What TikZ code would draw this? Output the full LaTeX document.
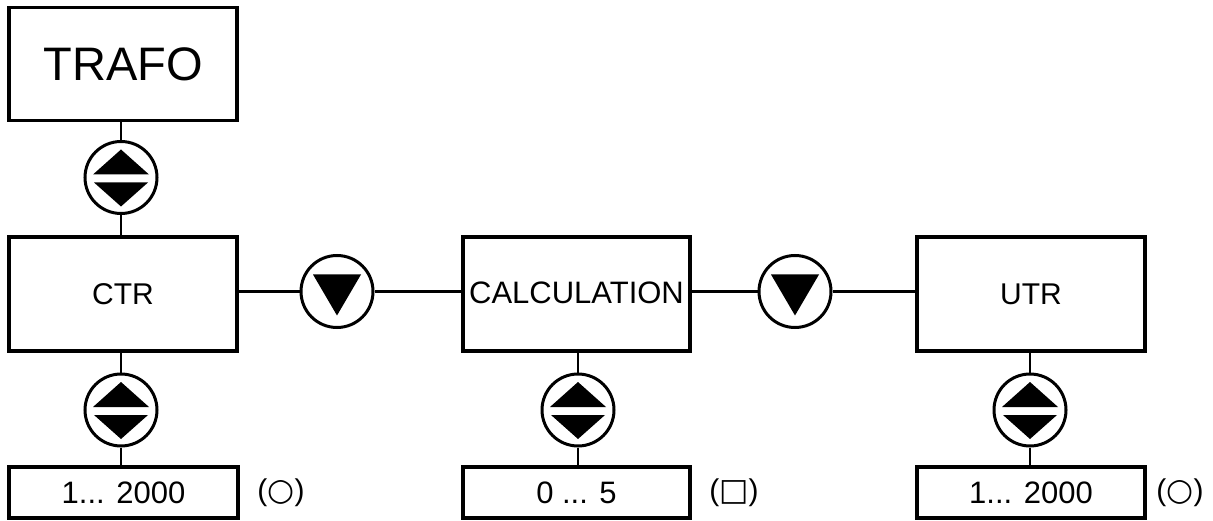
\documentclass[tikz,border=0pt]{standalone}
\usepackage{fontspec}
\setmainfont{Liberation Sans}
\newfontfamily\symfont{DejaVu Sans}
\tikzset{
  box/.style={draw, line width=3.1pt, inner sep=0pt, align=center, text=black},
  sym/.style={circle, draw, line width=3pt, minimum size=72pt, inner sep=0pt},
  conn/.style={line width=2.4pt},
  updown/.pic={
    \node[sym] (-c) at (0,0) {};
    \fill (-28,-3) -- (0,-28) -- (28,-3) -- cycle;
    \fill (-27,5) -- (0,29) -- (27,5) -- cycle;
  },
  downsym/.pic={
    \node[sym] (-c) at (0,0) {};
    \fill (-24,-17) -- (24,-17) -- (0,24) -- cycle;
  },
  lbl/.style={inner sep=0pt, font=\fontsize{30}{34}\selectfont, text=black}
}
\begin{document}
\begin{tikzpicture}[x=1pt,y=-1pt]
\useasboundingbox (0,0) rectangle (1213,521);

% main boxes
\node[box, minimum width=228pt, minimum height=113pt, font=\fontsize{47}{50}\selectfont] (trafo) at (123,64) {TRAFO};
\node[box, minimum width=228pt, minimum height=114pt, font=\fontsize{30}{34}\selectfont] (ctr) at (123,294) {CTR};
\node[box, minimum width=227pt, minimum height=114pt, font=\fontsize{31}{34}\selectfont] (calc) at (576.5,294) {\raisebox{2pt}{CALCULATION}};
\node[box, minimum width=228pt, minimum height=114pt, font=\fontsize{30}{34}\selectfont] (utr) at (1031,294) {UTR};

% value boxes
\node[box, minimum width=229pt, minimum height=51pt, font=\fontsize{31}{34}\selectfont] (v1) at (123.5,492.5) {1... 2000};
\node[box, minimum width=227pt, minimum height=51pt, font=\fontsize{31}{34}\selectfont] (v2) at (576.5,492.5) {0 ... 5};
\node[box, minimum width=228pt, minimum height=51pt, font=\fontsize{31}{34}\selectfont] (v3) at (1031,492.5) {1... 2000};

% symbol circles
\pic (a0) at (121,177.5) {updown};
\pic (a1) at (121,410) {updown};
\pic (a2) at (578,410) {updown};
\pic (a3) at (1030,410) {updown};
\pic (d1) at (337,291.5) {downsym};
\pic (d2) at (795,291.5) {downsym};

% connectors
\draw[conn] (a0-c |- trafo.south) -- (a0-c);
\draw[conn] (a0-c) -- (a0-c |- ctr.north);
\draw[conn] (a1-c |- ctr.south) -- (a1-c);
\draw[conn] (a1-c) -- (a1-c |- v1.north);
\draw[conn] (a2-c |- calc.south) -- (a2-c);
\draw[conn] (a2-c) -- (a2-c |- v2.north);
\draw[conn] (a3-c |- utr.south) -- (a3-c);
\draw[conn] (a3-c) -- (a3-c |- v3.north);
\draw[conn] (ctr.east |- d1-c) -- (d1-c);
\draw[conn] (d1-c) -- (calc.west |- d1-c);
\draw[conn] (calc.east |- d2-c) -- (d2-c);
\draw[conn] (d2-c) -- (utr.west |- d2-c);

% side markers
\node[lbl] (m1) at (281,493) {({\symfont\fontsize{31}{34}\selectfont ○})};
\node[lbl] (m2) at (734,493) {({\symfont\fontsize{31}{34}\selectfont □})};
\node[lbl] (m3) at (1180,493) {({\symfont\fontsize{31}{34}\selectfont ○})};
\end{tikzpicture}
\end{document}
